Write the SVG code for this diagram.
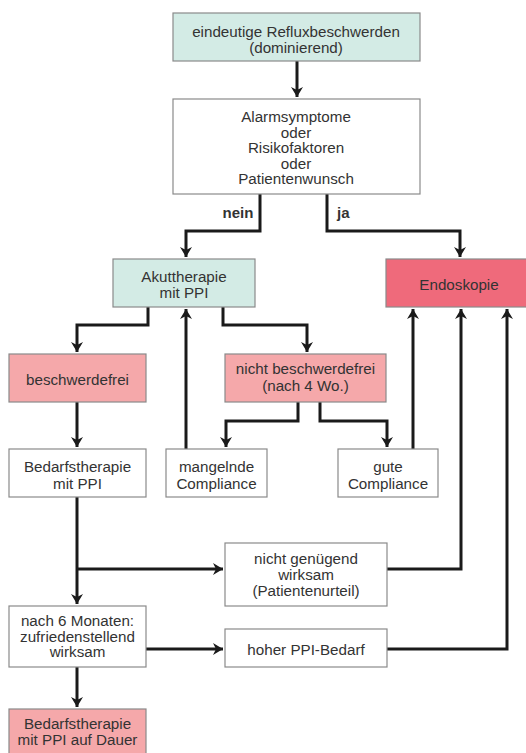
<svg xmlns="http://www.w3.org/2000/svg" width="526" height="753" viewBox="0 0 526 753">
<defs>
<marker id="ah" viewBox="0 0 10 12" refX="10" refY="6" markerWidth="10" markerHeight="12" markerUnits="userSpaceOnUse" orient="auto">
<path d="M0,0 L10,6 L0,12 L3,6 Z" fill="#1a1a1a"/>
</marker>
<style>
.b{stroke:#8a8a8a;stroke-width:1.2}
.w{fill:#ffffff}
.m{fill:#d3ebe5}
.p{fill:#f5a8aa}
.r{fill:#ef6a7b}
text{font-family:"Liberation Sans",Arial,sans-serif;font-size:15.2px;fill:#333333;text-anchor:middle}
.bold{font-weight:bold;font-size:15px}
.c{fill:none;stroke:#1a1a1a;stroke-width:3;marker-end:url(#ah)}
</style>
</defs>
<rect width="526" height="753" fill="#ffffff"/>
<g id="connectors">
<path class="c" d="M297,61 V97"/>
<path class="c" d="M260,194 V231 H186 V257"/>
<path class="c" d="M327,194 V231 H460 V257"/>
<path class="c" d="M148,307 V325 H77 V352"/>
<path class="c" d="M223,307 V325 H307 V352"/>
<path class="c" d="M186,449 V309"/>
<path class="c" d="M298,402 V421 H226 V447"/>
<path class="c" d="M320,402 V421 H387 V447"/>
<path class="c" d="M413,449 V309"/>
<path class="c" d="M77,402 V447"/>
<path class="c" d="M77,497 V604"/>
<path class="c" d="M77,569 H223"/>
<path class="c" d="M387,569 H461 V309"/>
<path class="c" d="M146,649 H223"/>
<path class="c" d="M387,649 H507 V309"/>
<path class="c" d="M77,667 V707"/>
<text x="238" y="217.5" class="bold">nein</text>
<text x="337" y="217.5" class="bold" style="text-anchor:start">ja</text>
</g>
<g id="n1"><rect class="b m" x="173" y="13" width="247" height="48"/><text x="296" y="36.5">eindeutige Refluxbeschwerden</text><text x="296" y="52.5">(dominierend)</text></g>
<g id="n2"><rect class="b w" x="173" y="99" width="247" height="95"/><text x="296" y="122">Alarmsymptome</text><text x="296" y="137.5">oder</text><text x="296" y="153">Risikofaktoren</text><text x="296" y="168.5">oder</text><text x="296" y="184">Patientenwunsch</text></g>
<g id="n3"><rect class="b m" x="113" y="259" width="142" height="48"/><text x="184" y="282">Akuttherapie</text><text x="184" y="298">mit PPI</text></g>
<g id="n4"><rect class="b r" x="386" y="259" width="145" height="48"/><text x="459" y="289.5">Endoskopie</text></g>
<g id="n5"><rect class="b p" x="9" y="354" width="137" height="48"/><text x="77.5" y="384.5">beschwerdefrei</text></g>
<g id="n6"><rect class="b p" x="225" y="354" width="161" height="48"/><text x="305.5" y="374">nicht beschwerdefrei</text><text x="305.5" y="390.5">(nach 4 Wo.)</text></g>
<g id="n7"><rect class="b w" x="9" y="449" width="137" height="48"/><text x="77.5" y="472">Bedarfstherapie</text><text x="77.5" y="488.5">mit PPI</text></g>
<g id="n8"><rect class="b w" x="166" y="449" width="101" height="48"/><text x="216.5" y="472">mangelnde</text><text x="216.5" y="488.5">Compliance</text></g>
<g id="n9"><rect class="b w" x="338" y="449" width="100" height="48"/><text x="388" y="472">gute</text><text x="388" y="488.5">Compliance</text></g>
<g id="n10"><rect class="b w" x="225" y="543" width="162" height="63"/><text x="306" y="563.5">nicht genügend</text><text x="306" y="579.5">wirksam</text><text x="306" y="595.5">(Patientenurteil)</text></g>
<g id="n11"><rect class="b w" x="9" y="606" width="137" height="61"/><text x="77.5" y="626">nach 6 Monaten:</text><text x="77.5" y="641.5">zufriedenstellend</text><text x="77.5" y="657">wirksam</text></g>
<g id="n12"><rect class="b w" x="225" y="629" width="162" height="38"/><text x="306" y="654.5">hoher PPI-Bedarf</text></g>
<g id="n13"><rect class="b p" x="9" y="709" width="137" height="50"/><text x="77.5" y="728.5">Bedarfstherapie</text><text x="77.5" y="745">mit PPI auf Dauer</text></g>
</svg>
